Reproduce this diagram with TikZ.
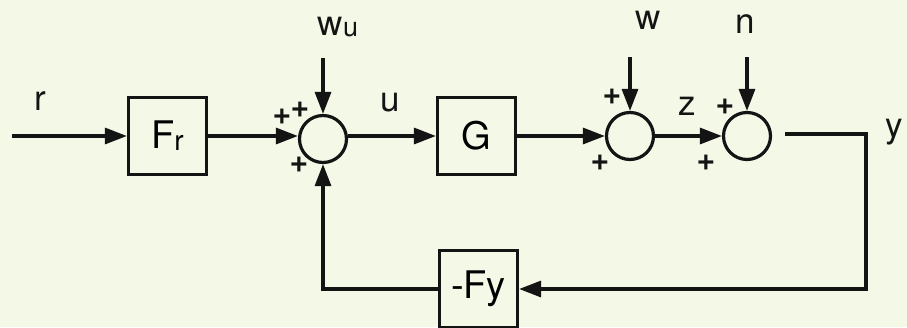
\documentclass[tikz,border=0pt]{standalone}
\usepackage{fontspec}
\setmainfont{TeX Gyre Heros}
\usetikzlibrary{arrows.meta}
\definecolor{paper}{RGB}{244,248,230}
\definecolor{ink}{RGB}{20,20,20}
\newcommand{\boxfont}{\fontsize{38}{40}\selectfont}
\newcommand{\sigfont}{\fontsize{35}{37}\selectfont}
\newcommand{\pmfont}{\fontsize{32}{34}\selectfont\bfseries}
\begin{document}
\begin{tikzpicture}[x=1pt,y=-1pt,
  line width=3.2pt, draw=ink,
  blockbox/.style={draw=ink, fill=paper, minimum width=78pt, minimum height=77pt, inner sep=0pt, font=\boxfont},
  sumnode/.style={circle, draw=ink, minimum size=47pt, inner sep=0pt},
  sig/.style={font=\sigfont, text=ink, inner sep=0pt},
  pm/.style={font=\pmfont, text=ink, inner sep=0pt},
  flow/.style={-{Triangle[length=22pt,width=16pt]}, draw=ink},
  line/.style={draw=ink}]
\fill[paper] (0,0) rectangle (907,327);
\useasboundingbox (0,0) rectangle (907,327);

\coordinate (rin) at (12,136);
\node[blockbox] (Fr) at (167.5,136) {F\raisebox{-2pt}{\fontsize{28}{30}\selectfont r}};
\node[sumnode] (s1) at (323,139) {};
\node[blockbox] (G) at (476.5,136) {G};
\node[sumnode] (s2) at (630,136) {};
\node[sumnode] (s3) at (747,136) {};
\node[blockbox] (Fy) at (478.5,289) {-Fy};

\coordinate (wuin) at (323,58);
\coordinate (win) at (630,57);
\coordinate (nin) at (747,57);
\coordinate (yout) at (785,134);
\coordinate (ycorner) at (866,134);
\coordinate (fbcorner) at (866,289);
\coordinate (fbleft) at (323,289);

\draw[flow] (rin) -- (Fr.west);
\draw[flow] (Fr.east) -- (Fr.east -| s1.west);
\draw[flow] (wuin) -- (s1.north);
\draw[flow] (s1.east |- G) -- (G.west);
\draw[flow] (G.east) -- (s2.west);
\draw[flow] (win) -- (s2.north);
\draw[flow] (s2.east) -- (s3.west);
\draw[flow] (nin) -- (s3.north);
\draw[flow] (yout) -- (ycorner) -- (fbcorner) -- (Fy.east);
\draw[flow] (Fy.west) -- (fbleft) -- (s1.south);

\node[sig] (lr) at (40,101) {r};
\node[sig] (lwu) at (338,27) {w\raisebox{-1pt}{\fontsize{27}{28}\selectfont u}};
\node[sig] (lu) at (390,103) {u};
\node[sig] (lw) at (648,20) {w};
\node[sig] (lz) at (687,106) {z};
\node[sig] (ln) at (745,24) {n};
\node[sig, anchor=east] (ly) at (905,132) {y};

\node[pm] (p1) at (282,117) {+};
\node[pm] (p2) at (300,110) {+};
\node[pm] (p3) at (299,165) {+};
\node[pm] (p4) at (612,97) {+};
\node[pm] (p5) at (600,163) {+};
\node[pm] (p6) at (725,107) {+};
\node[pm] (p7) at (706,163) {+};
\end{tikzpicture}
\end{document}
